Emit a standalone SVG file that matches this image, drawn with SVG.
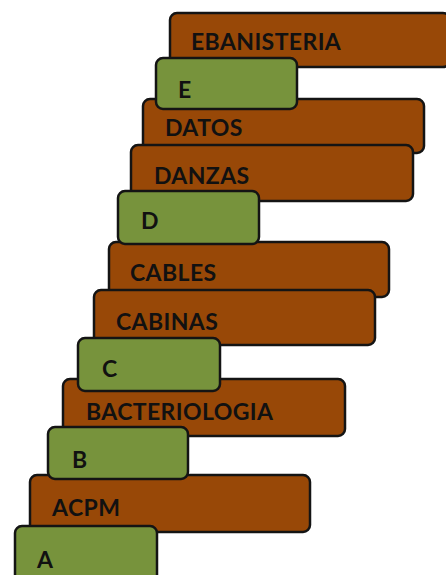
<svg xmlns="http://www.w3.org/2000/svg" width="446" height="575" viewBox="0 0 446 575">
<style>
.br{fill:#984807;stroke:#141414;stroke-width:2.5}
.gr{fill:#77933c;stroke:#141414;stroke-width:2.5}
text{font-family:"Lato","Open Sans","Liberation Sans",sans-serif;font-weight:bold;font-size:23px;letter-spacing:0.4px;fill:#111}
</style>
<rect width="446" height="575" fill="#fff"/>
<g id="ebanisteria"><rect class="br" x="170" y="13" width="280" height="54" rx="7"/><text x="191" y="50">EBANISTERIA</text></g>
<g id="datos"><rect class="br" x="143" y="99" width="281" height="54" rx="7"/><text x="165" y="136">DATOS</text></g>
<g id="danzas"><rect class="br" x="131" y="145" width="282" height="56" rx="7"/><text x="154" y="184">DANZAS</text></g>
<g id="cables"><rect class="br" x="109" y="242" width="280" height="55" rx="7"/><text x="130" y="281">CABLES</text></g>
<g id="cabinas"><rect class="br" x="94" y="290" width="281" height="55" rx="7"/><text x="116" y="330">CABINAS</text></g>
<g id="bacteriologia"><rect class="br" x="63" y="379" width="282" height="57" rx="7"/><text x="86" y="420">BACTERIOLOGIA</text></g>
<g id="acpm"><rect class="br" x="30" y="475" width="280" height="57" rx="7"/><text x="52" y="516">ACPM</text></g>
<g id="e"><rect class="gr" x="156" y="58" width="141" height="51" rx="7"/><text x="178" y="98">E</text></g>
<g id="d"><rect class="gr" x="118" y="191" width="141" height="53" rx="7"/><text x="141" y="229">D</text></g>
<g id="c"><rect class="gr" x="78" y="338" width="142" height="53" rx="7"/><text x="102" y="377">C</text></g>
<g id="b"><rect class="gr" x="48" y="427" width="140" height="52" rx="7"/><text x="72" y="468">B</text></g>
<g id="a"><rect class="gr" x="15" y="526" width="142" height="56" rx="7"/><text x="37" y="568">A</text></g>
<g id="connectors"/>
</svg>
